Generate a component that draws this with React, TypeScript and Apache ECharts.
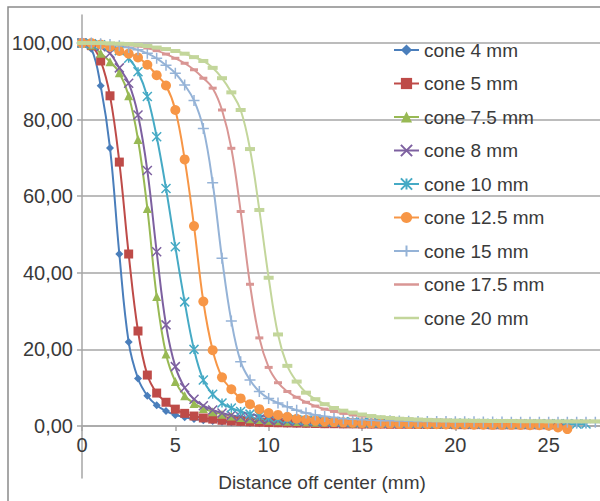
import React, { useEffect, useRef } from "react";
import * as echarts from "echarts";

const distances = [
  0, 0.5, 1, 1.5, 2, 2.5, 3, 3.5, 4, 4.5,
  5, 5.5, 6, 6.5, 7, 7.5, 8, 8.5, 9, 9.5,
  10, 10.5, 11, 11.5, 12, 12.5, 13, 13.5, 14, 14.5,
  15, 15.5, 16, 16.5, 17, 17.5, 18, 18.5, 19, 19.5,
  20, 20.5, 21, 21.5, 22, 22.5, 23, 23.5, 24, 24.5,
  25, 25.5, 26, 26.5, 27, 27.5, 28,
];

const cone4 = [
  100, 98.5, 88.8, 72.6, 44.9, 21.9, 12.4, 7.9, 5.4, 3.9,
  2.9, 2.3, 1.8, 1.5, 1.3, 1.1, 1.0, 0.9, 0.8, 0.75,
  0.7, 0.65, 0.6, 0.55, 0.5, 0.5, 0.45, 0.45, 0.4, 0.4,
  0.4, 0.35, 0.35, 0.35, 0.3, 0.3, 0.3, 0.3, 0.3, 0.25,
  0.25, 0.25, 0.25, 0.25, 0.2, 0.2, 0.2, 0.2, 0.2, 0.2, 0.2,
];
const cone5 = [
  100, 99.3, 95.3, 86.2, 68.9, 44.9, 24.8, 13.3, 8.6, 6.2,
  4.4, 3.3, 2.6, 2.1, 1.8, 1.5, 1.3, 1.2, 1.1, 1.0,
  0.9, 0.85, 0.8, 0.75, 0.7, 0.65, 0.6, 0.6, 0.55, 0.55,
  0.5, 0.5, 0.5, 0.45, 0.45, 0.45, 0.4, 0.4, 0.4, 0.4,
  0.35, 0.35, 0.35, 0.35, 0.3, 0.3, 0.3, 0.3, 0.3, 0.3, 0.3, 0.3,
];
const cone7_5 = [
  100, 99.5, 97.3, 95.1, 92.2, 86.2, 74.8, 56.8, 33.8, 18.8,
  11.6, 7.9, 5.9, 4.6, 3.7, 3.1, 2.6, 2.2, 1.9, 1.7,
  1.5, 1.35, 1.25, 1.15, 1.05, 1.0, 0.95, 0.9, 0.85, 0.8,
  0.8, 0.75, 0.7, 0.7, 0.65, 0.65, 0.6, 0.6, 0.55, 0.55,
  0.5, 0.5, 0.5, 0.45, 0.45, 0.45, 0.4, 0.4, 0.4,
];
const cone8 = [
  100, 99.7, 99.0, 97.3, 93.5, 89.5, 81.2, 66.7, 45.5, 26.4,
  15.5, 10.0, 7.0, 5.3, 4.2, 3.4, 2.8, 2.4, 2.1, 1.8,
  1.6, 1.45, 1.35, 1.25, 1.15, 1.1, 1.0, 0.95, 0.9, 0.85,
  0.85, 0.8, 0.75, 0.75, 0.7, 0.7, 0.65, 0.65, 0.6, 0.6,
  0.6, 0.55, 0.55, 0.55, 0.5, 0.5, 0.5, 0.5, 0.45, 0.45, 0.45, 0.45, 0.4,
];
const cone10 = [
  100, 99.8, 99.5, 99.0, 98.0, 96.0, 92.5, 86.0, 75.5, 62.0,
  46.8, 32.4, 20.0, 12.0, 8.3, 6.0, 4.7, 3.8, 3.1, 2.7,
  2.3, 2.0, 1.8, 1.6, 1.5, 1.4, 1.3, 1.2, 1.1, 1.05,
  1.0, 0.95, 0.9, 0.9, 0.85, 0.8, 0.8, 0.75, 0.75, 0.7,
  0.7, 0.7, 0.65, 0.65, 0.65, 0.6, 0.6, 0.6, 0.6, 0.55, 0.55, 0.55, 0.55, 0.5, 0.5,
];
const cone12_5 = [
  100, 100, 99.6, 99.0, 97.9, 97.2, 96.2, 94.3, 91.6, 88.9,
  82.5, 69.6, 52.2, 32.5, 19.8, 12.7, 9.6, 7.2, 5.7, 4.4,
  3.4, 2.9, 2.4, 1.9, 1.6, 1.4, 1.2, 1.05, 0.95, 0.85,
  0.75, 0.7, 0.65, 0.6, 0.55, 0.5, 0.5, 0.45, 0.45, 0.4,
  0.4, 0.4, 0.35, 0.35, 0.3, 0.3, 0.3, 0.25, 0.2, 0.2, 0.1, -0.4, -0.8,
];
const cone15 = [
  100, 100, 99.8, 99.6, 99.3, 98.8, 98.2, 97.3, 96.0, 94.2,
  92.1, 89.0, 85.0, 77.7, 63.5, 43.8, 27.4, 16.8, 12.0, 9.0,
  7.2, 6.0, 5.0, 4.1, 3.4, 2.9, 2.5, 2.2, 1.9, 1.75,
  1.6, 1.5, 1.4, 1.35, 1.3, 1.25, 1.2, 1.2, 1.15, 1.15,
  1.1, 1.1, 1.1, 1.05, 1.05, 1.05, 1.0, 1.0, 1.0, 1.0,
  1.0, 1.0, 1.0, 1.0, 1.0, 1.0, 1.0,
];
const cone17_5 = [
  100, 100, 99.9, 99.8, 99.7, 99.5, 99.2, 98.7, 98.0, 97.1,
  96.0, 94.7, 93.0, 90.8, 88.2, 82.5, 72.5, 56.0, 37.0, 23.0,
  15.3, 11.3, 9.0, 7.5, 6.2, 5.2, 4.4, 3.8, 3.3, 2.9,
  2.6, 2.4, 2.2, 2.05, 1.9, 1.8, 1.7, 1.6, 1.55, 1.5,
  1.45, 1.4, 1.4, 1.35, 1.35, 1.3, 1.3, 1.3, 1.25, 1.25,
  1.25, 1.2, 1.2, 1.2, 1.2, 1.2, 1.2,
];
const cone20 = [
  100, 100, 100, 99.9, 99.8, 99.7, 99.5, 99.2, 98.8, 98.4,
  97.9, 97.2, 96.3, 95.3, 93.5, 90.8, 87.1, 82.5, 72.3, 56.4,
  38.7, 23.9, 15.7, 11.6, 8.7, 7.0, 5.7, 4.7, 4.0, 3.5,
  3.0, 2.6, 2.3, 2.1, 1.9, 1.8, 1.7, 1.6, 1.5, 1.45,
  1.4, 1.4, 1.35, 1.35, 1.3, 1.3, 1.3, 1.25, 1.25, 1.25,
  1.2, 1.2, 1.2, 1.2, 1.2, 1.2, 1.2,
];

const seriesNames = [
  "cone 4 mm", "cone 5 mm", "cone 7.5 mm", "cone 8 mm", "cone 10 mm",
  "cone 12.5 mm", "cone 15 mm", "cone 17.5 mm", "cone 20 mm",
];
const seriesValues = [cone4, cone5, cone7_5, cone8, cone10, cone12_5, cone15, cone17_5, cone20];
const yTickValues = [0, 20, 40, 60, 80, 100];

const colors = [
  "#4a7ebb", "#be4b48", "#98b954", "#7d60a0", "#46aac5",
  "#f79646", "#95b3d7", "#d99694", "#c3d69b",
];
const X_PATH = "path://M0,0L10,10M10,0L0,10";
const STAR_PATH = "path://M0,0L10,10M10,0L0,10M5,0L5,10";
const PLUS_PATH = "path://M5,0L5,10M0,5L10,5";
const DASH_PATH = "path://M0,0L10,0L10,3L0,3Z";
const LINE_ICON = "path://M0,0L25,0L25,2.5L0,2.5Z";
const symbols = ["diamond", "rect", "triangle", X_PATH, STAR_PATH, "circle", PLUS_PATH, DASH_PATH, DASH_PATH];
const symbolSizes: any[] = [8, 9, 9, 9, 9, 10, 11, [8, 3], [10, 4]];
const strokeSymbols = [false, false, false, true, true, false, true, false, false];
const plainLegend = [false, false, false, false, false, false, false, true, true];

const FONT = "'Liberation Sans', Arial, sans-serif";
const TEXT = "#3a3a3a";
const GRID_GRAY = "#a6a6a6";

export default function App() {
  const ref = useRef<HTMLDivElement>(null);
  useEffect(() => {
    if (!ref.current) return;
    const chart = echarts.init(ref.current, null, { renderer: "svg" });
    const series = seriesNames.map((name, k) => ({
      type: "line",
      name,
      xAxisIndex: 0,
      yAxisIndex: 0,
      data: seriesValues[k].map((v, i) => [distances[i], v]),
      smooth: 0.4,
      clip: false,
      symbol: symbols[k],
      symbolSize: symbolSizes[k],
      showAllSymbol: true,
      color: colors[k],
      lineStyle: { width: 2, color: colors[k] },
      itemStyle: strokeSymbols[k]
        ? { color: colors[k], borderColor: colors[k], borderWidth: 1.5 }
        : { color: colors[k] },
      emphasis: { disabled: true },
    }));
    const legendData = seriesNames.map((name, k) =>
      plainLegend[k]
        ? { name, icon: LINE_ICON, itemStyle: { color: colors[k] } }
        : { name }
    );
    chart.setOption({
      animation: false,
      textStyle: { fontFamily: FONT },
      graphic: [
        {
          type: "rect",
          shape: { x: 8, y: 7, width: 800, height: 800 },
          style: { fill: "none", stroke: "#8a8a8a", lineWidth: 1.5 },
          silent: true,
          z: -1,
        },
        {
          type: "text",
          x: 322,
          y: 482,
          style: {
            text: "Distance off center (mm)",
            fontSize: 19,
            fontFamily: FONT,
            fill: TEXT,
            align: "center",
            verticalAlign: "middle",
          },
        },
      ],
      grid: [
        { left: 82, top: 15, width: 560, height: 411, outerBoundsMode: "none", containLabel: false },
        { left: 82, top: 426, width: 560, height: 52, outerBoundsMode: "none", containLabel: false },
      ],
      legend: {
        orient: "vertical",
        left: 393,
        top: 40,
        padding: 0,
        itemWidth: 25,
        itemHeight: 14,
        itemGap: 13.5,
        symbolKeepAspect: true,
        textStyle: { fontSize: 19, color: TEXT, fontFamily: FONT, lineHeight: 20 },
        data: legendData,
      },
      xAxis: [
        {
          type: "value",
          gridIndex: 0,
          min: 0,
          max: 30,
          interval: 5,
          axisLine: { onZero: false, lineStyle: { color: GRID_GRAY, width: 1.5 } },
          axisTick: { show: true, length: 5, lineStyle: { color: GRID_GRAY, width: 1.5 } },
          axisLabel: { fontSize: 20, color: TEXT, margin: 9, fontFamily: FONT, showMaxLabel: false },
          splitLine: { show: false },
        },
        { type: "value", gridIndex: 1, min: 0, max: 30, show: false },
      ],
      yAxis: [
        {
          type: "value",
          gridIndex: 0,
          min: 0,
          max: 107.3,
          axisLine: { show: true, onZero: false, lineStyle: { color: GRID_GRAY, width: 1.5 } },
          axisTick: { show: true, length: 5, customValues: yTickValues, lineStyle: { color: GRID_GRAY, width: 1.5 } },
          axisLabel: {
            customValues: yTickValues,
            fontSize: 20,
            color: TEXT,
            margin: 9,
            fontFamily: FONT,
            formatter: (v: number) => v.toFixed(2).replace(".", ","),
          },
          splitLine: { show: true, lineStyle: { color: GRID_GRAY, width: 1.5 } },
        },
        {
          type: "value",
          gridIndex: 1,
          min: -13.6,
          max: 0,
          axisLine: { show: true, onZero: false, lineStyle: { color: GRID_GRAY, width: 1.5 } },
          axisTick: { show: false },
          axisLabel: { show: false },
          splitLine: { show: false },
        },
      ],
      series,
    });
    return () => chart.dispose();
  }, []);
  return (
    <div
      ref={ref}
      style={{ position: "fixed", left: 0, top: 0, width: 600, height: 501, background: "#fff" }}
    />
  );
}
